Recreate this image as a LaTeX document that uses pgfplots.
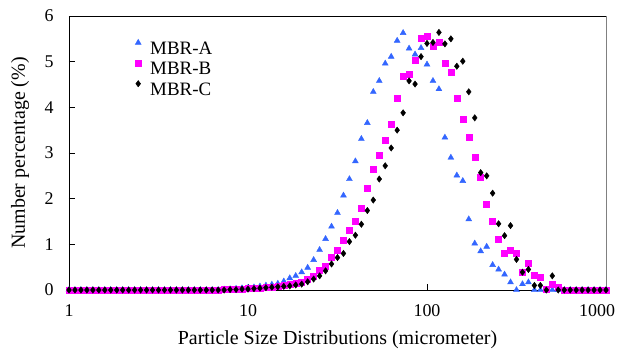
\documentclass[border=0pt]{standalone}
\usepackage{pgfplots}
\pgfplotsset{compat=1.18}
\usepackage{pgfplotstable}
\usepackage{fontspec}
\setmainfont{Liberation Serif}
\definecolor{mblue}{RGB}{51,102,255}
\definecolor{mmag}{RGB}{255,0,255}
\pgfplotstableread{
x A B C
1 0 0 0
1.0798 0 0 0
1.1659 0 0 0
1.2589 0 0 0
1.3594 0 0 0
1.4678 0 0 0
1.5849 0 0 0
1.7113 0 0 0
1.8478 0 0 0
1.9953 0 0 0
2.1544 0 0 0
2.3263 0 0 0
2.5119 0 0 0
2.7123 0 0 0
2.9286 0 0 0
3.1623 0 0 0
3.4145 0 0 0
3.6869 0 0 0
3.9811 0 0 0
4.2987 0 0 0
4.6416 0 0 0
5.0119 0 0 0
5.4117 0 0 0
5.8434 0 0 0
6.3096 0 0 0
6.8129 0 0 0
7.3564 0.01 0.01 0
7.9433 0.02 0.01 0.01
8.5770 0.03 0.02 0.01
9.2612 0.04 0.02 0.02
10 0.05 0.03 0.02
10.798 0.06 0.04 0.03
11.659 0.08 0.05 0.04
12.589 0.10 0.06 0.05
13.594 0.12 0.07 0.06
14.678 0.14 0.08 0.07
15.849 0.19 0.10 0.08
17.113 0.26 0.12 0.09
18.478 0.31 0.15 0.11
19.953 0.39 0.18 0.13
21.544 0.49 0.24 0.18
23.263 0.66 0.31 0.24
25.119 0.88 0.43 0.31
27.123 1.12 0.53 0.42
29.286 1.39 0.71 0.57
31.623 1.69 0.88 0.71
34.145 2.07 1.09 0.80
36.869 2.43 1.30 1.06
39.811 2.82 1.51 1.20
42.987 3.31 1.79 1.44
46.416 3.66 2.22 1.74
50.119 4.34 2.64 1.97
54.117 4.58 2.96 2.43
58.434 4.96 3.28 2.72
63.096 5.11 3.63 3.11
68.129 5.46 4.20 3.50
73.564 5.63 4.69 3.88
79.433 5.29 4.73 4.58
85.770 5.16 5.04 4.51
92.612 5.30 5.51 5.11
100 4.94 5.55 5.40
107.98 4.58 5.33 5.42
116.59 4.40 5.43 5.64
125.89 3.34 4.97 5.39
135.94 2.90 4.76 5.50
146.78 2.51 4.20 4.90
158.49 2.39 3.74 5.01
171.13 1.55 3.35 4.34
184.78 1.02 2.90 3.77
199.53 0.85 2.46 2.57
215.44 0.95 1.87 2.50
232.63 0.55 1.51 2.12
251.19 0.45 1.12 1.45
271.23 0.34 0.81 1.19
292.86 0.17 0.88 1.41
316.23 0 0.81 0.67
341.45 0.13 0.39 0.39
368.69 0.17 0.59 0.45
398.11 0 0.32 0.10
429.87 0 0.28 0.10
464.16 0 0.02 0
501.19 0 0.12 0.31
541.17 0 0.07 0
584.34 0 0 0
630.96 0 0 0
681.29 0 0 0
735.64 0 0 0
794.33 0 0 0
857.70 0 0 0
926.12 0 0 0
1000 0 0 0
}\datatable
\begin{document}
\begin{tikzpicture}
\begin{axis}[
  at={(0,0)}, anchor=south west,
  scale only axis, width=537bp, height=274bp,
  xmode=log, xmin=1, xmax=1000, ymin=0, ymax=6,
  xtick={1,10,100,1000}, xticklabels={1,10,100,{1000\hphantom{00}}},
  xminorticks=false,
  ytick={0,1,2,3,4,5,6},
  /pgf/number format/assume math mode=true,
  tick align=inside, major tick length=6bp,
  xtick pos=bottom, ytick pos=left,
  tick style={black, line width=0.8bp},
  axis line style={draw=none},
  clip=false,
  ticklabel style={font=\fontsize{18}{20}\selectfont},
  yticklabel style={xshift=-12bp},
  xticklabel style={yshift=-11bp},
  label style={font=\fontsize{20}{22}\selectfont},
  xlabel={Particle Size Distributions (micrometer)},
  ylabel={Number percentage (\%)},
  xlabel style={at={(axis description cs:0.5,-0.1825)}, anchor=center},
  ylabel style={at={(axis description cs:-0.0912,0.5)}, anchor=center},
  legend image code/.code={%
    \pgfpathrectangle{\pgfpointorigin}{\pgfqpoint{0.6cm}{12bp}}\pgfusepath{}%
    \draw[#1] plot coordinates {(0.3cm,5.5bp)};},
  legend style={at={(axis description cs:0.1127,0.927)}, anchor=north west,
    draw=none, fill=none, inner sep=0bp, font=\fontsize{19}{21}\selectfont,
    nodes={inner ysep=0bp, inner xsep=3.5bp, text height=12bp, text depth=0bp},
    row sep=2.5bp},
  legend cell align=left,
]
\draw[black, line width=0.8bp] (rel axis cs:1,1) -- (rel axis cs:0,1) -- (rel axis cs:0,0) -- (rel axis cs:1,0);
\draw[gray, line width=0.8bp] (rel axis cs:1,0) -- (rel axis cs:1,1);
\addplot[only marks, mark=triangle*, mark size=3.4bp, color=mblue] table[x=x, y=A] {\datatable};
\addlegendentry{MBR-A}
\addplot[only marks, mark=square*, mark size=3bp, color=mmag] table[x=x, y=B] {\datatable};
\addlegendentry{MBR-B}
\addplot[only marks, mark=diamond*, mark size=3.2bp, color=black] table[x=x, y=C] {\datatable};
\addlegendentry{MBR-C}
\end{axis}
\pgfresetboundingbox
\path[use as bounding box] (-69bp,-61bp) rectangle (553bp,290bp);
\end{tikzpicture}
\end{document}
